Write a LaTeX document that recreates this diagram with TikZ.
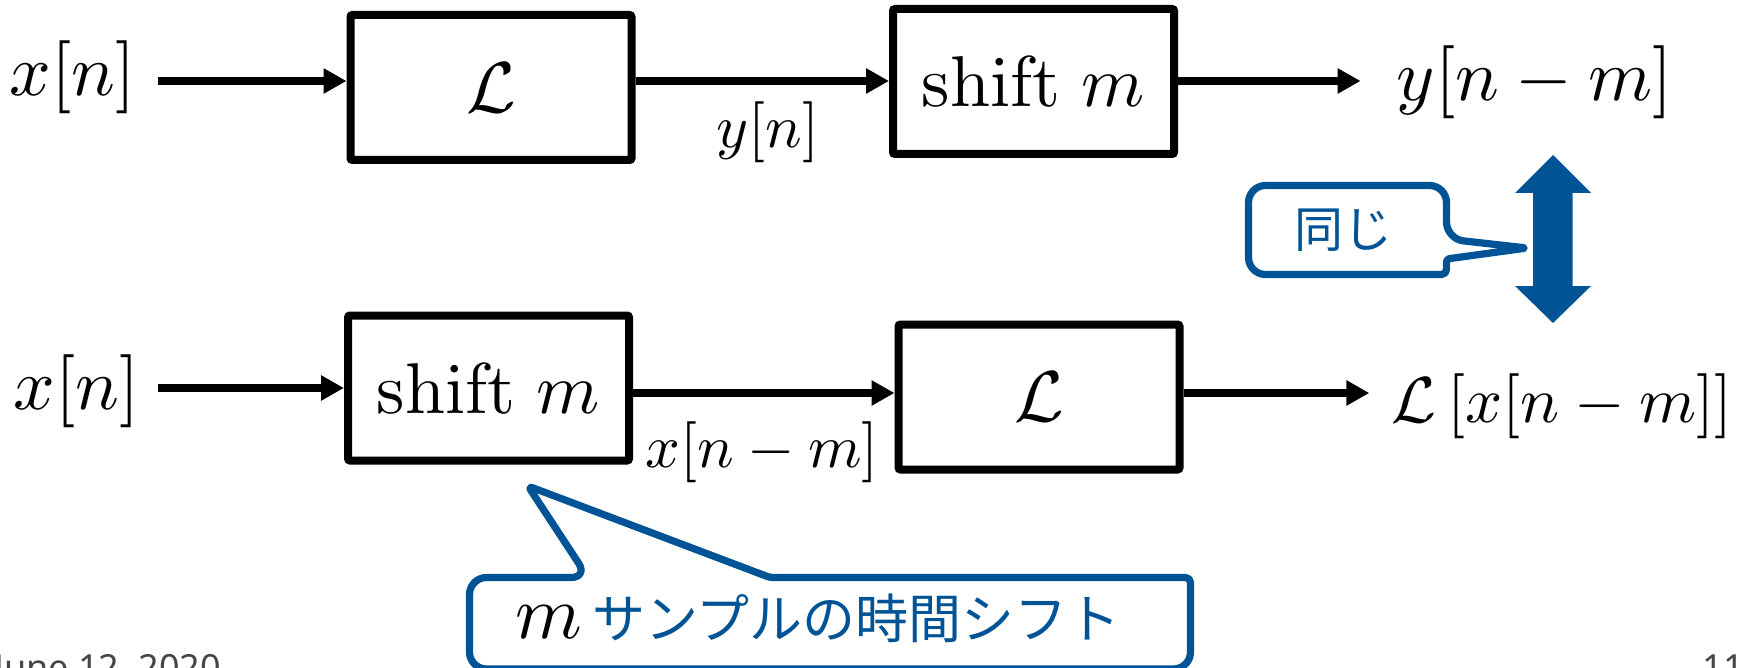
\documentclass[tikz,border=0pt]{standalone}
\usepackage[no-math]{fontspec}
\DeclareFontShape{OML}{cmm}{m}{it}{<->cmmi10}{}
\DeclareFontShape{OT1}{cmr}{m}{n}{<->cmr10}{}
\DeclareFontShape{OMS}{cmsy}{m}{n}{<->cmsy10}{}
\newfontfamily\cjk{Noto Sans CJK JP}
\newfontfamily\notosans{Noto Sans}
\usetikzlibrary{arrows.meta}
\definecolor{jblue}{RGB}{0,84,150}
\definecolor{dgray}{RGB}{70,70,70}
\begin{document}
\begin{tikzpicture}[x=0.5pt,y=-0.5pt,
  blk/.style={draw,line width=4pt,minimum width=140.5pt,minimum height=72.5pt,inner sep=0pt,rounded corners=1pt,font=\fontsize{36}{40}\selectfont},
  big/.style={inner sep=0pt,font=\fontsize{36.5}{40}\selectfont},
  lbl/.style={inner sep=0pt,font=\fontsize{30.5}{34}\selectfont},
  arr/.style={line width=3.8pt,-{Triangle[length=11.5pt,width=12pt]}},
  callout/.style={draw=jblue,line width=3.6pt,fill=white,line join=round},
  jtxt/.style={inner sep=0pt,text=jblue},
  foot/.style={inner sep=0pt,text=dgray,font=\notosans\fontsize{18}{20}\selectfont}
]
\useasboundingbox (0,0) rectangle (1750,668);
\clip (0,0) rectangle (1750,668);

% blocks
\node[blk] (L1) at (491,87.5) {$\mathcal{L}$};
\node[blk] (S1) at (1033.5,81.5) {$\mathrm{shift}\ m$};
\node[blk] (S2) at (488.5,388) {$\mathrm{shift}\ m$};
\node[blk] (L2) at (1039,397) {$\mathcal{L}$};

% signals
\node[big] (xn1) at (73,77) {$x[n]$};
\node[big] (ynm) at (1535,82.5) {$y[n-m]$};
\node[big] (xn2) at (77,391) {$x[n]$};
\node[inner sep=0pt,font=\fontsize{32.5}{36}\selectfont] (Lx) at (1562,406.5) {$\mathcal{L}\,[x[n-m]]$};
\node[lbl] (yn) at (768,132) {$y[n]$};
\node[lbl] (xnm) at (762,452) {$x[n-m]$};

% rows
\coordinate (r1) at (0,81);
\coordinate (r2) at (0,388);
\coordinate (r3) at (0,393);

\draw[arr,shorten <=11pt] (xn1.east |- r1) -- (L1.west |- r1);
\draw[arr] (L1.east |- r1) -- (S1.west |- r1);
\draw[arr,shorten >=18pt] (S1.east |- r1) -- (ynm.west |- r1);
\draw[arr,shorten <=9pt] (xn2.east |- r2) -- (S2.west |- r2);
\draw[arr] (S2.east |- r3) -- (L2.west |- r3);
\draw[arr,shorten >=11pt] (L2.east |- r3) -- (Lx.west |- r3);

% double arrow
\fill[jblue] (1553,155) -- (1591,193) -- (1572.5,193) -- (1572.5,286) -- (1591,286)
  -- (1553,323) -- (1515,286) -- (1533,286) -- (1533,193) -- (1515,193) -- cycle;

% callout 1
\draw[callout] (1347,185.5) [rounded corners=8.5pt] -- (1446.5,185.5) -- (1446.5,239)
  [rounded corners=2.5pt] -- (1527,248)
  [rounded corners=1.5pt] -- (1446.5,259)
  [rounded corners=2.5pt] -- (1446.5,274.5)
  [rounded corners=8.5pt] -- (1248.5,274.5) -- (1248.5,185.5) -- cycle;
\node[jtxt,anchor=base,font=\cjk\fontsize{24.5}{28}\selectfont] (c1t) at (1343,248) {同じ};

% callout 2
\draw[callout] (830,669) [rounded corners=8.5pt] -- (469.5,669) -- (469.5,577.5) -- (588,577.5)
  [rounded corners=2.5pt] -- (528,486)
  [rounded corners=1.5pt] -- (770,577.5)
  [rounded corners=2.5pt] -- (1190.5,577.5)
  [rounded corners=8.5pt] -- (1190.5,669) -- cycle;
\node[inner sep=0pt,anchor=base west,font=\fontsize{38}{42}\selectfont] (c2t) at (515,638) {$m$\hspace{5pt}\textcolor{jblue}{\cjk\fontsize{26.5}{30}\selectfont サンプルの時間シフト}};

% footer
\node[foot,anchor=base west] (date) at (-6,680) {June 12, 2020};
\node[foot,anchor=base east] (page) at (1744,680) {\bfseries 11};
\end{tikzpicture}
\end{document}
